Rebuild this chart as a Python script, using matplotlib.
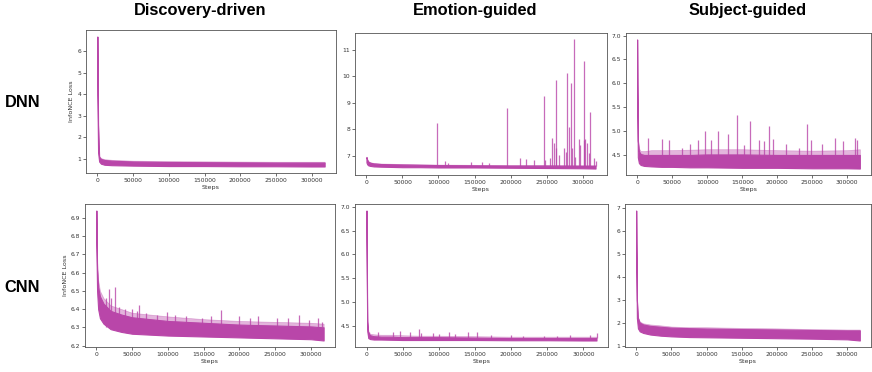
import matplotlib
matplotlib.use("Agg")
from matplotlib import pyplot as plt

# ---- data ----
steps = [0, 1000, 2500, 5000, 10000, 20000, 35000, 50000, 75000,
         100000, 150000, 200000, 250000, 300000, 318000]

# DNN / Discovery-driven
dnn_disc_lower = [4.0, 1.3, 0.88, 0.78, 0.73, 0.71, 0.70, 0.69, 0.68, 0.67, 0.67, 0.66, 0.66, 0.65, 0.65]
dnn_disc_upper = [6.68, 2.6, 1.10, 1.00, 0.95, 0.92, 0.90, 0.88, 0.87, 0.86, 0.85, 0.84, 0.83, 0.83, 0.83]
dnn_disc_peak = [6.68, 2.7, 1.14, 1.04, 0.99, 0.96, 0.94, 0.92, 0.91, 0.90, 0.89, 0.88, 0.87, 0.87, 0.87]
dnn_disc_spike_x = []
dnn_disc_spike_y = []

# DNN / Emotion-guided
dnn_emo_lower = [6.75, 6.68, 6.64, 6.62, 6.60, 6.59, 6.58, 6.57, 6.57, 6.56, 6.56, 6.55, 6.54, 6.53, 6.52]
dnn_emo_upper = [6.95, 6.85, 6.78, 6.74, 6.71, 6.69, 6.68, 6.67, 6.66, 6.65, 6.64, 6.63, 6.63, 6.62, 6.62]
dnn_emo_peak = [6.97, 6.88, 6.80, 6.76, 6.73, 6.71, 6.70, 6.69, 6.68, 6.67, 6.66, 6.65, 6.65, 6.65, 6.65]
dnn_emo_spike_x = [97500, 109700, 113000, 145000, 160000, 170000, 195500, 213000, 222000,
                   232700, 246000, 247700, 255000, 257000, 261000, 262500, 263800, 267500,
                   274000, 277000, 279000, 281000, 284000, 285500, 288500, 290000, 295500,
                   296500, 301300, 302500, 304000, 306000, 309000, 310700, 316000, 318000]
dnn_emo_spike_y = [8.25, 6.80, 6.72, 6.76, 6.75, 6.72, 8.81, 6.93, 6.87,
                   6.84, 9.24, 6.85, 6.90, 7.67, 7.47, 7.30, 9.84, 7.02,
                   7.30, 7.15, 10.11, 8.09, 9.74, 7.28, 11.38, 6.95, 7.62,
                   7.40, 10.56, 7.60, 7.65, 7.48, 7.10, 8.65, 6.90, 6.80]

# DNN / Subject-guided
dnn_subj_lower = [6.0, 4.45, 4.33, 4.29, 4.27, 4.26, 4.25, 4.25, 4.24, 4.24, 4.23, 4.23, 4.22, 4.22, 4.215]
dnn_subj_upper = [6.92, 4.80, 4.58, 4.52, 4.50, 4.50, 4.50, 4.50, 4.50, 4.51, 4.51, 4.50, 4.50, 4.50, 4.50]
dnn_subj_peak = [6.92, 4.88, 4.64, 4.58, 4.58, 4.60, 4.60, 4.60, 4.61, 4.62, 4.62, 4.60, 4.59, 4.60, 4.62]
dnn_subj_spike_x = [15400, 34900, 45600, 64200, 74900, 87400, 96800, 106000, 115300, 129300,
                    142300, 152600, 161800, 173500, 180500, 188800, 194400, 213000, 231600,
                    242300, 247800, 264200, 282700, 294300, 310600, 314200]
dnn_subj_spike_y = [4.86, 4.83, 4.82, 4.64, 4.72, 4.82, 5.00, 4.82, 5.00, 4.93,
                    5.33, 4.70, 5.21, 4.82, 4.79, 5.11, 4.83, 4.72, 4.65,
                    5.15, 4.82, 4.72, 4.85, 4.79, 4.85, 4.82]

# CNN / Discovery-driven
cnn_disc_lower = [6.75, 6.50, 6.40, 6.35, 6.32, 6.29, 6.275, 6.265, 6.26, 6.255, 6.25, 6.245, 6.24, 6.235, 6.228]
cnn_disc_upper = [6.94, 6.62, 6.52, 6.47, 6.43, 6.39, 6.37, 6.355, 6.345, 6.335, 6.325, 6.315, 6.31, 6.305, 6.30]
cnn_disc_peak = [6.94, 6.66, 6.56, 6.50, 6.46, 6.42, 6.40, 6.38, 6.37, 6.36, 6.345, 6.335, 6.33, 6.325, 6.32]
cnn_disc_spike_x = [14000, 17600, 21000, 26000, 31000, 40000, 49600, 57000, 60300, 70000,
                    85000, 99000, 110000, 125000, 148000, 160000, 174800, 200000, 215000,
                    226800, 253000, 268000, 284000, 298000, 310000, 316000]
cnn_disc_spike_y = [6.46, 6.51, 6.46, 6.52, 6.41, 6.40, 6.40, 6.39, 6.42, 6.38,
                    6.37, 6.385, 6.37, 6.36, 6.35, 6.36, 6.395, 6.36, 6.35,
                    6.36, 6.35, 6.35, 6.367, 6.34, 6.35, 6.33]

# CNN / Emotion-guided
cnn_emo_lower = [6.3, 4.40, 4.25, 4.23, 4.22, 4.22, 4.215, 4.21, 4.21, 4.21, 4.21, 4.205, 4.205, 4.20, 4.20]
cnn_emo_upper = [6.92, 4.60, 4.35, 4.31, 4.29, 4.28, 4.28, 4.27, 4.27, 4.27, 4.26, 4.25, 4.25, 4.25, 4.25]
cnn_emo_peak = [6.92, 4.65, 4.38, 4.34, 4.33, 4.32, 4.32, 4.31, 4.30, 4.30, 4.29, 4.28, 4.28, 4.28, 4.28]
cnn_emo_spike_x = [3200, 15900, 36400, 46400, 60400, 72700, 75000, 92300, 100000, 113600,
                   122700, 140000, 152300, 172700, 200000, 215900, 245000, 263600, 281800, 309000, 318000]
cnn_emo_spike_y = [4.37, 4.38, 4.37, 4.39, 4.38, 4.45, 4.36, 4.36, 4.33, 4.37,
                   4.33, 4.37, 4.38, 4.31, 4.31, 4.30, 4.29, 4.30, 4.31, 4.32, 4.35]

# CNN / Subject-guided
cnn_subj_lower = [5.5, 2.2, 1.75, 1.62, 1.55, 1.48, 1.43, 1.40, 1.37, 1.36, 1.34, 1.32, 1.30, 1.27, 1.22]
cnn_subj_upper = [6.90, 3.0, 2.2, 2.0, 1.92, 1.86, 1.82, 1.78, 1.76, 1.74, 1.72, 1.70, 1.68, 1.66, 1.66]
cnn_subj_peak = [6.90, 3.1, 2.25, 2.05, 1.97, 1.92, 1.88, 1.83, 1.80, 1.80, 1.77, 1.75, 1.72, 1.70, 1.70]
cnn_subj_spike_x = []
cnn_subj_spike_y = []

col_titles = ["Discovery-driven", "Emotion-guided", "Subject-guided"]
row_titles = ["DNN", "CNN"]
x_ticks = [0, 50000, 100000, 150000, 200000, 250000, 300000]
y_ticks = [
    [1, 2, 3, 4, 5, 6],
    [7, 8, 9, 10, 11],
    [4.5, 5.0, 5.5, 6.0, 6.5, 7.0],
    [6.2, 6.3, 6.4, 6.5, 6.6, 6.7, 6.8, 6.9],
    [4.5, 5.0, 5.5, 6.0, 6.5, 7.0],
    [1, 2, 3, 4, 5, 6, 7],
]

panels = [
    (dnn_disc_lower, dnn_disc_upper, dnn_disc_peak, dnn_disc_spike_x, dnn_disc_spike_y),
    (dnn_emo_lower, dnn_emo_upper, dnn_emo_peak, dnn_emo_spike_x, dnn_emo_spike_y),
    (dnn_subj_lower, dnn_subj_upper, dnn_subj_peak, dnn_subj_spike_x, dnn_subj_spike_y),
    (cnn_disc_lower, cnn_disc_upper, cnn_disc_peak, cnn_disc_spike_x, cnn_disc_spike_y),
    (cnn_emo_lower, cnn_emo_upper, cnn_emo_peak, cnn_emo_spike_x, cnn_emo_spike_y),
    (cnn_subj_lower, cnn_subj_upper, cnn_subj_peak, cnn_subj_spike_x, cnn_subj_spike_y),
]

# ---- layout (pixel boxes: left, top, right, bottom) ----
W, H = 872, 372
boxes = [
    (86, 30, 336, 173), (355, 33, 607, 175), (626, 33, 871, 175),
    (85, 204, 335, 347), (355, 204, 608, 347), (625, 204, 871, 347),
]
color = "#b946a9"

fig = plt.figure(figsize=(W / 100, H / 100), dpi=100)

for i, (lower, upper, peak, sx, sy) in enumerate(panels):
    l, t, r, b = boxes[i]
    ax = fig.add_axes([l / W, 1 - b / H, (r - l) / W, (b - t) / H])

    # light, ragged top of the noisy band
    ax.fill_between(steps, upper, peak, color=color, alpha=0.4, linewidth=0.5)
    # dense body of the band
    ax.fill_between(steps, lower, upper, color=color, linewidth=0.8)
    # isolated spikes, starting inside the band
    if sx:
        ax.vlines(sx, upper[-1], sy, color=color, linewidth=0.9, alpha=0.8)

    ax.set_xticks(x_ticks)
    ax.set_yticks(y_ticks[i])
    ax.tick_params(labelsize=4.3, length=2, width=0.5, pad=1.5, colors="#333333")
    ax.set_xlabel("Steps", fontsize=4.6, labelpad=1.5, color="#333333")
    if i % 3 == 0:
        ax.set_ylabel("InfoNCE Loss", fontsize=4.6, labelpad=2, color="#333333")
    for spine in ax.spines.values():
        spine.set_linewidth(0.6)
        spine.set_color("#555555")

# column and row headings
col_x = [200, 475, 748]
for x, title in zip(col_x, col_titles):
    fig.text(x / W, 1 - 15 / H, title, ha="center", va="baseline",
             fontsize=11.8, fontweight="bold", family="Liberation Sans")
row_y = [107, 292]
for y, title in zip(row_y, row_titles):
    fig.text(22.5 / W, 1 - y / H, title, ha="center", va="baseline",
             fontsize=11.8, fontweight="bold", family="Liberation Sans")

fig.savefig("out.png", dpi=100)
plt.close(fig)
